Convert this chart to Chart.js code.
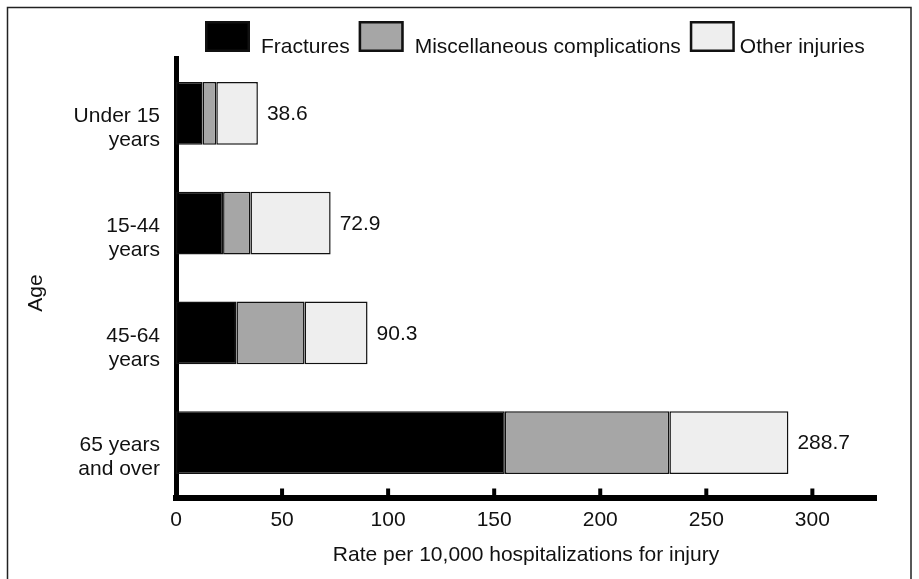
<!DOCTYPE html>
<html>
<head>
<meta charset="utf-8">
<script src="https://cdn.jsdelivr.net/npm/chart.js@4.4.1/dist/chart.umd.min.js"></script>
<style>
  html, body { margin: 0; padding: 0; background: #fff; }
  #wrap { width: 919px; height: 579px; }
</style>
</head>
<body>
<div id="wrap"><canvas id="chart" width="919" height="579"></canvas></div>
<script>
// Age groups (two-line labels)
const ageGroups = [['Under 15', 'years'], ['15-44', 'years'], ['45-64', 'years'], ['65 years', 'and over']];

// Rate per 10,000 hospitalizations for injury
const fractures = [12.5, 22.2, 28.5, 155.0];
const miscComplications = [6.5, 12.9, 32.1, 77.6];
const otherInjuries = [19.6, 37.8, 29.7, 56.1];
const totals = ['38.6', '72.9', '90.3', '288.7'];

const xTicks = [0, 50, 100, 150, 200, 250, 300];

const FONT = 'Helvetica, Arial, "Liberation Sans", sans-serif';
const font = { family: FONT, size: 21, lineHeight: 1.15 };
const LABEL_SHIFT = 15; // les libellés d'âge sont un peu sous le centre des barres

// cadre autour de la figure
const framePlugin = {
    id: 'frame',
    beforeDraw(chart) {
        const ctx = chart.ctx;
        ctx.save();
        ctx.strokeStyle = '#222';
        ctx.lineWidth = 1.5;
        ctx.strokeRect(7.5, 7.5, 903.5, 620);
        ctx.restore();
    }
};

// petites graduations vers l'intérieur de l'axe x
const tickMarksPlugin = {
    id: 'tickMarks',
    afterDraw(chart) {
        const ctx = chart.ctx;
        const x = chart.scales.x;
        const bottom = chart.chartArea.bottom;
        ctx.save();
        ctx.fillStyle = '#000';
        xTicks.forEach(v => {
            if (v === 0) return;
            const px = x.getPixelForValue(v);
            ctx.fillRect(px - 2, bottom - 9, 4, 7);
        });
        ctx.restore();
    }
};

// titre de l'axe y, décalé comme les libellés
const ageTitlePlugin = {
    id: 'ageTitle',
    afterDraw(chart) {
        const ctx = chart.ctx;
        const area = chart.chartArea;
        ctx.save();
        ctx.font = `${font.size}px ${FONT}`;
        ctx.fillStyle = '#111';
        ctx.textAlign = 'center';
        ctx.textBaseline = 'middle';
        ctx.translate(36, (area.top + area.bottom) / 2 + LABEL_SHIFT);
        ctx.rotate(-Math.PI / 2);
        ctx.fillText('Age', 0, 0);
        ctx.restore();
    }
};

// totaux à droite des barres
const totalsPlugin = {
    id: 'totals',
    afterDatasetsDraw(chart) {
        const ctx = chart.ctx;
        const meta = chart.getDatasetMeta(chart.data.datasets.length - 1);
        ctx.save();
        ctx.font = `${font.size}px ${FONT}`;
        ctx.fillStyle = '#111';
        ctx.textBaseline = 'middle';
        ctx.textAlign = 'left';
        meta.data.forEach((bar, i) => {
            ctx.fillText(totals[i], bar.x + 9, bar.y + 1);
        });
        ctx.restore();
    }
};

// légende en haut, texte aligné sur le bas des carrés
const legendPlugin = {
    id: 'topLegend',
    afterDraw(chart) {
        const ctx = chart.ctx;
        let x = 205;
        const boxTop = 21, boxW = 45, boxH = 31;
        ctx.save();
        ctx.font = `${font.size}px ${FONT}`;
        ctx.textBaseline = 'alphabetic';
        chart.data.datasets.forEach((ds, i) => {
            ctx.fillStyle = ds.backgroundColor;
            ctx.fillRect(x, boxTop, boxW, boxH);
            ctx.strokeStyle = '#111';
            ctx.lineWidth = 2.5;
            ctx.strokeRect(x + 1.25, boxTop + 1.25, boxW - 2.5, boxH - 2.5);
            x += boxW + (i === chart.data.datasets.length - 1 ? 5 : 11);
            ctx.fillStyle = '#111';
            ctx.fillText(ds.label, x, 53);
            x += ctx.measureText(ds.label).width + 9;
        });
        ctx.restore();
    }
};

const barStyle = { borderColor: '#111', borderWidth: 1.5, borderSkipped: false, barPercentage: 0.57, categoryPercentage: 1 };

new Chart(document.getElementById('chart'), {
    type: 'bar',
    data: {
        labels: ageGroups,
        datasets: [
            { label: 'Fractures', data: fractures, backgroundColor: '#000000', ...barStyle },
            { label: 'Miscellaneous complications', data: miscComplications, backgroundColor: '#a6a6a6', ...barStyle },
            { label: 'Other injuries', data: otherInjuries, backgroundColor: '#eeeeee', ...barStyle }
        ]
    },
    options: {
        indexAxis: 'y',
        responsive: false,
        animation: false,
        devicePixelRatio: 1,
        layout: { padding: { top: 58.5, right: 43, left: 0, bottom: 0 } },
        plugins: { legend: { display: false }, tooltip: { enabled: false } },
        scales: {
            x: {
                stacked: true,
                min: 0,
                max: 330,
                grid: { display: false, drawTicks: false },
                border: { display: true, width: 6, color: '#000' },
                ticks: { font, color: '#111', padding: 11 },
                afterBuildTicks: s => { s.ticks = xTicks.map(v => ({ value: v })); },
                afterFit: s => { s.height = 81.5; },
                title: { display: true, text: 'Rate per 10,000 hospitalizations for injury', font, color: '#111', padding: { top: 0, bottom: 12 } }
            },
            y: {
                stacked: true,
                grid: { display: false, drawTicks: false },
                border: { display: true, width: 5, color: '#000' },
                ticks: { font, color: '#111', padding: 16, labelOffset: LABEL_SHIFT },
                afterFit: s => { s.width = 176; }
            }
        }
    },
    plugins: [framePlugin, tickMarksPlugin, ageTitlePlugin, totalsPlugin, legendPlugin]
});
</script>
</body>
</html>
